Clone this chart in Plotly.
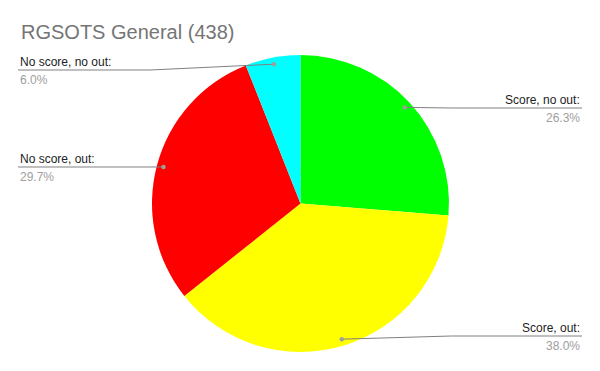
import math
import plotly.graph_objects as go

# ---- data ----
categories = ["Score, no out", "Score, out", "No score, out", "No score, no out"]
percentages = [26.3, 38.0, 29.7, 6.0]
title_text = "RGSOTS General (438)"

# ---- styles / layout ----
colors = ["#00ff00", "#ffff00", "#ff0000", "#00ffff"]
W, H = 600, 371
CX, CY, R = 300.5, 203.5, 148.5
label_line_y = [108, 336, 167, 70]   # px from top, per slice
LEFT_X, RIGHT_X = 18, 582
FONT = "Arial, 'Liberation Sans', sans-serif"


def px(x):
    return x / W


def py(y):
    return 1 - y / H


fig = go.Figure(
    go.Pie(
        labels=categories,
        values=percentages,
        sort=False,
        direction="clockwise",
        rotation=0,
        marker=dict(colors=colors, line=dict(width=0)),
        textinfo="none",
        hoverinfo="label+percent",
        showlegend=False,
        domain=dict(x=[px(CX - R), px(CX + R)], y=[py(CY + R), py(CY - R)]),
    )
)

shapes = []
annotations = []
total = sum(percentages)
cum = 0.0
for i, (cat, v) in enumerate(zip(categories, percentages)):
    mid = (cum + v / 2) / total * 2 * math.pi
    cum += v
    dx = math.sin(mid)
    dy = -math.cos(mid)
    dot_x = CX + dx * R * 0.955
    dot_y = CY + dy * R * 0.955
    right = dx > 0
    ly = label_line_y[i]
    knee_x = CX + (R + 2) * (1 if right else -1)
    end_x = RIGHT_X if right else LEFT_X
    path = "M {:.3f},{:.4f} L {:.3f},{:.4f} L {:.3f},{:.4f}".format(
        px(dot_x), py(dot_y), px(knee_x), py(ly), px(end_x), py(ly)
    )
    shapes.append(dict(type="path", path=path, xref="paper", yref="paper",
                       line=dict(color="#808080", width=1)))
    shapes.append(dict(type="circle", xref="paper", yref="paper",
                       x0=px(dot_x - 2.2), x1=px(dot_x + 2.2),
                       y0=py(dot_y + 2.2), y1=py(dot_y - 2.2),
                       fillcolor="#9e9e9e", line=dict(width=0)))
    tx = (RIGHT_X - 1) if right else (LEFT_X + 1)
    anchor = "right" if right else "left"
    annotations.append(dict(text=cat + ":", x=px(tx), y=py(ly - 8), xref="paper", yref="paper",
                            xanchor=anchor, yanchor="middle", showarrow=False,
                            font=dict(family=FONT, size=12, color="#222222"), borderpad=0))
    annotations.append(dict(text="{:.1f}%".format(v / total * 100), x=px(tx), y=py(ly + 10),
                            xref="paper", yref="paper", xanchor=anchor, yanchor="middle",
                            showarrow=False, font=dict(family=FONT, size=12, color="#9e9e9e"),
                            borderpad=0))

annotations.append(dict(text=title_text, x=px(19), y=py(32), xref="paper", yref="paper",
                        xanchor="left", yanchor="middle", showarrow=False,
                        font=dict(family=FONT, size=20, color="#757575")))

fig.update_layout(
    width=W, height=H,
    margin=dict(l=0, r=0, t=0, b=0),
    paper_bgcolor="white", plot_bgcolor="white",
    shapes=shapes, annotations=annotations,
)

fig.write_html("out.html")
